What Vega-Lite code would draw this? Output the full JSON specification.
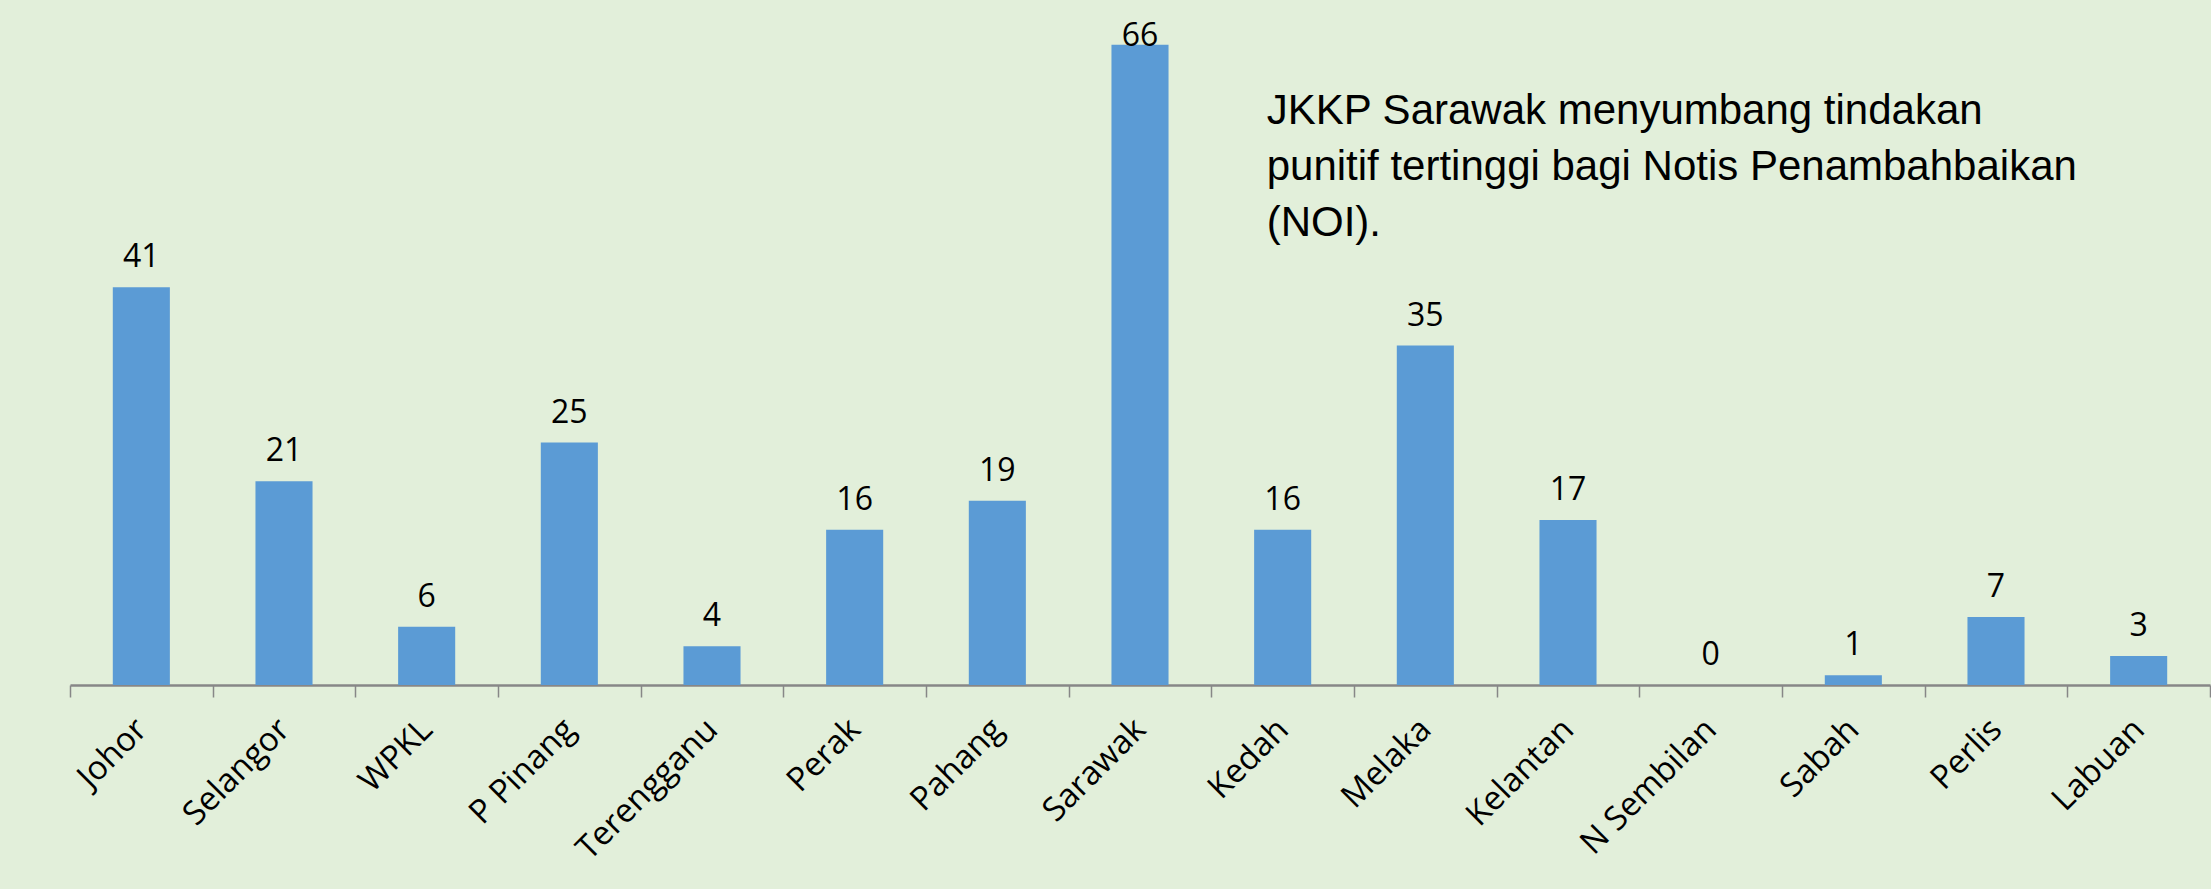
{
  "$schema": "https://vega.github.io/schema/vega-lite/v6.json",
  "width": 2140,
  "height": 679,
  "autosize": {"type": "none"},
  "padding": {"left": 70, "top": 6, "right": 1, "bottom": 204},
  "background": "#E2EFDA",
  "config": {"view": {"stroke": null}},
  "datasets": {
    "bars": [
      {"state": "Johor", "count": 41},
      {"state": "Selangor", "count": 21},
      {"state": "WPKL", "count": 6},
      {"state": "P Pinang", "count": 25},
      {"state": "Terengganu", "count": 4},
      {"state": "Perak", "count": 16},
      {"state": "Pahang", "count": 19},
      {"state": "Sarawak", "count": 66},
      {"state": "Kedah", "count": 16},
      {"state": "Melaka", "count": 35},
      {"state": "Kelantan", "count": 17},
      {"state": "N Sembilan", "count": 0},
      {"state": "Sabah", "count": 1},
      {"state": "Perlis", "count": 7},
      {"state": "Labuan", "count": 3}
    ],
    "note": [
      {"state": "Kedah", "count": 57.8, "text": "JKKP Sarawak menyumbang tindakan\npunitif tertinggi bagi Notis Penambahbaikan\n(NOI)."}
    ]
  },
  "layer": [
    {
      "data": {"name": "bars"},
      "mark": {"type": "bar", "color": "#5B9BD5", "width": {"band": 0.4}},
      "encoding": {
        "x": {
          "field": "state", "type": "nominal", "sort": null, "title": null,
          "scale": {"paddingInner": 0, "paddingOuter": 0},
          "axis": {
            "labelAngle": -45, "labelAlign": "right", "labelBaseline": "middle",
            "labelFont": "Open Sans", "labelFontSize": 33, "labelColor": "#000000",
            "labelPadding": 27, "tickBand": "extent", "tickSize": 12,
            "tickColor": "#878787", "tickWidth": 1.5,
            "domainColor": "#878787", "domainWidth": 2.5,
            "labelLimit": 400
          }
        },
        "y": {"field": "count", "type": "quantitative", "scale": {"domain": [0, 70]}, "axis": null}
      }
    },
    {
      "data": {"name": "bars"},
      "transform": [{"filter": "datum.count < 60"}],
      "mark": {"type": "text", "font": "Open Sans", "fontSize": 32, "baseline": "alphabetic", "dy": -20, "color": "#000000"},
      "encoding": {
        "x": {"field": "state", "type": "nominal", "sort": null},
        "y": {"field": "count", "type": "quantitative"},
        "text": {"field": "count", "type": "quantitative"}
      }
    },
    {
      "data": {"name": "bars"},
      "transform": [{"filter": "datum.count >= 60"}],
      "mark": {"type": "text", "font": "Open Sans", "fontSize": 32, "baseline": "alphabetic", "dy": 1, "color": "#000000"},
      "encoding": {
        "x": {"field": "state", "type": "nominal", "sort": null},
        "y": {"field": "count", "type": "quantitative"},
        "text": {"field": "count", "type": "quantitative"}
      }
    },
    {
      "data": {"name": "note"},
      "mark": {"type": "text", "font": "Liberation Sans", "fontSize": 42, "lineHeight": 56, "align": "left", "baseline": "alphabetic", "dx": -16, "lineBreak": "\n", "color": "#000000"},
      "encoding": {
        "x": {"field": "state", "type": "nominal", "sort": null},
        "y": {"field": "count", "type": "quantitative"},
        "text": {"field": "text", "type": "nominal"}
      }
    }
  ]
}
